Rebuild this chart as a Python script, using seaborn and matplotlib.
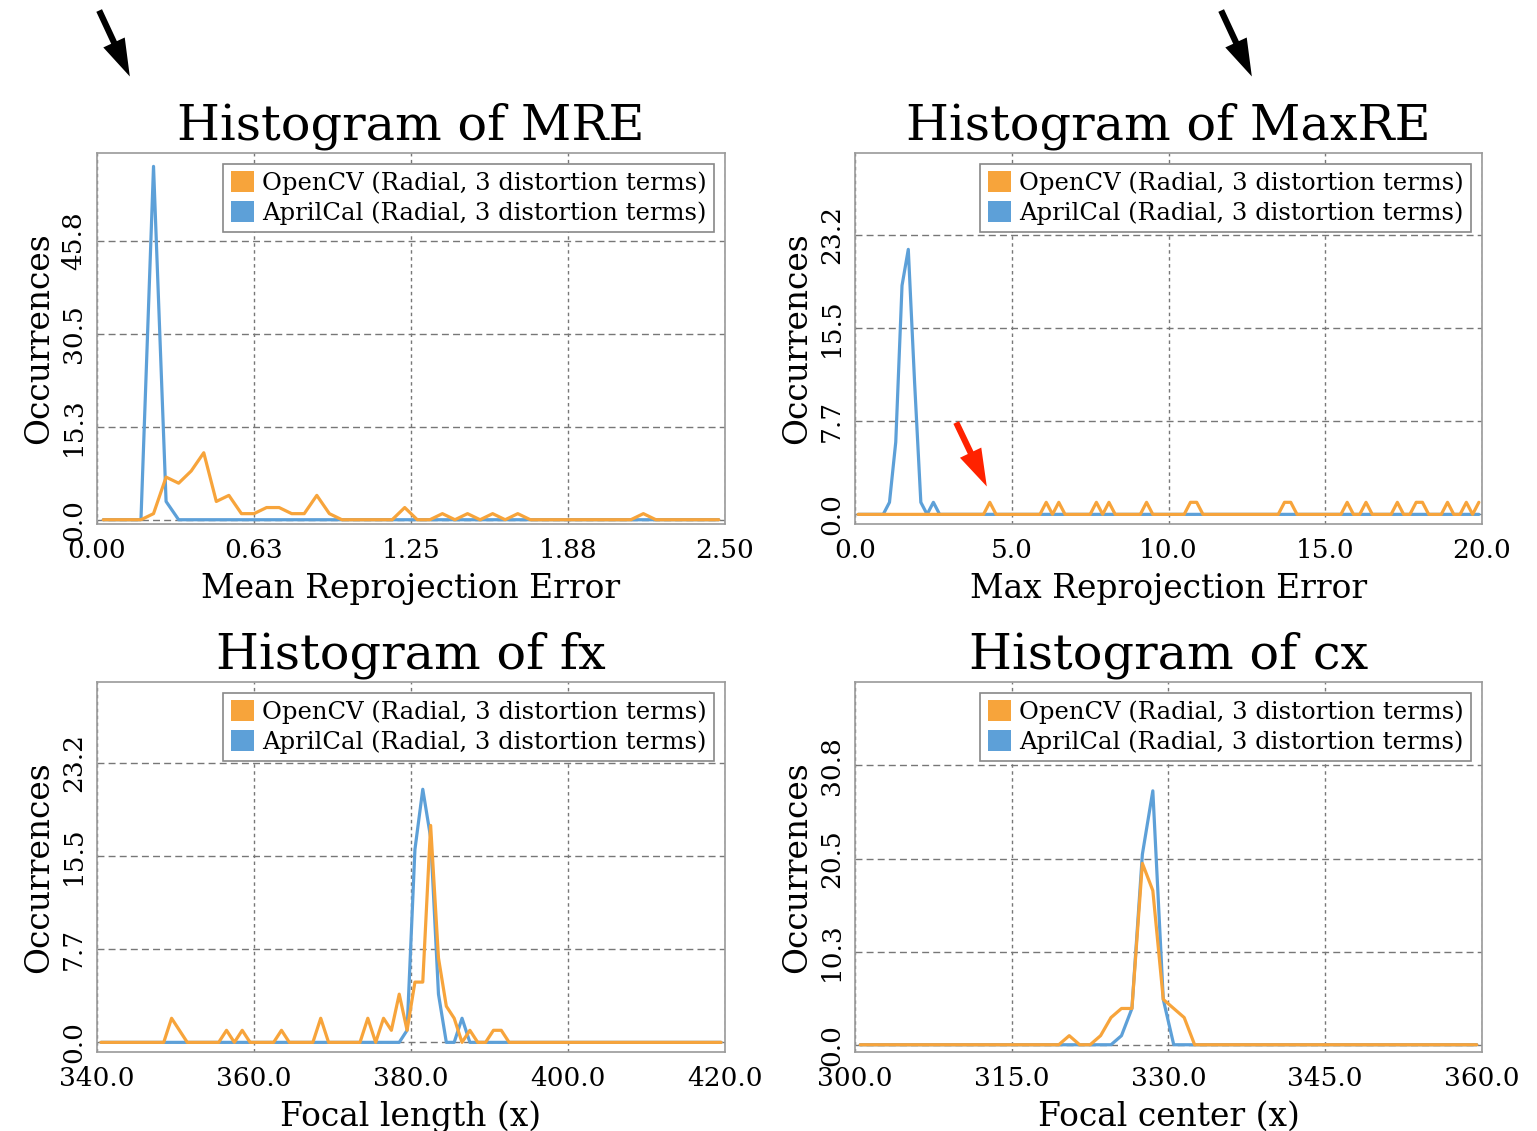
import numpy as np
import pandas as pd
import matplotlib
matplotlib.use("Agg")
import matplotlib.pyplot as plt
import seaborn as sns
from matplotlib.patches import Patch, FancyArrowPatch

methods = ["OpenCV (Radial, 3 distortion terms)", "AprilCal (Radial, 3 distortion terms)"]
colors = ["#F7A43B", "#5DA0D8"]

# Mean reprojection error: 50 bins over [0, 2.5]
mre_range = (0.0, 2.5)
mre_opencv = [0, 0, 0, 0, 1, 7, 6, 8, 11, 3,
              4, 1, 1, 2, 2, 1, 1, 4, 1, 0,
              0, 0, 0, 0, 2, 0, 0, 1, 0, 1,
              0, 1, 0, 1, 0, 0, 0, 0, 0, 0,
              0, 0, 0, 1, 0, 0, 0, 0, 0, 0]
mre_aprilcal = [0, 0, 0, 0, 58, 3, 0, 0, 0, 0] + [0] * 40

# Max reprojection error: 100 bins over [0, 20]
maxre_range = (0.0, 20.0)
maxre_opencv = [0, 0, 0, 0, 0, 0, 0, 0, 0, 0,
                0, 0, 0, 0, 0, 0, 0, 0, 0, 0,
                0, 1, 0, 0, 0, 0, 0, 0, 0, 0,
                1, 0, 1, 0, 0, 0, 0, 0, 1, 0,
                1, 0, 0, 0, 0, 0, 1, 0, 0, 0,
                0, 0, 0, 1, 1, 0, 0, 0, 0, 0,
                0, 0, 0, 0, 0, 0, 0, 0, 1, 1,
                0, 0, 0, 0, 0, 0, 0, 0, 1, 0,
                0, 1, 0, 0, 0, 0, 1, 0, 0, 1,
                1, 0, 0, 0, 1, 0, 0, 1, 0, 1]
maxre_aprilcal = [0, 0, 0, 0, 0, 1, 6, 19, 22, 11,
                  1, 0, 1, 0, 0, 0, 0, 0, 0, 0] + [0] * 80

# Focal length (x): 80 bins over [340, 420]
fx_range = (340.0, 420.0)
fx_opencv = [0, 0, 0, 0, 0, 0, 0, 0, 0, 2,
             1, 0, 0, 0, 0, 0, 1, 0, 1, 0,
             0, 0, 0, 1, 0, 0, 0, 0, 2, 0,
             0, 0, 0, 0, 2, 0, 2, 1, 4, 1,
             5, 5, 18, 7, 3, 2, 0, 1, 0, 0,
             1, 1, 0, 0, 0, 0, 0, 0, 0, 0] + [0] * 20
fx_aprilcal = [0] * 30 + [0, 0, 0, 0, 0, 0, 0, 0, 0, 1,
                          16, 21, 17, 4, 0, 0, 2, 0, 0, 0] + [0] * 30

# Focal center (x): 60 bins over [300, 360]
cx_range = (300.0, 360.0)
cx_opencv = [0] * 20 + [1, 0, 0, 1, 3, 4, 4, 20, 17, 5,
                        4, 3, 0, 0, 0, 0, 0, 0, 0, 0] + [0] * 20
cx_aprilcal = [0] * 20 + [0, 0, 0, 0, 0, 1, 4, 21, 28, 5,
                          0, 0, 0, 0, 0, 0, 0, 0, 0, 0] + [0] * 20

panels = [
    dict(rng=mre_range, opencv=mre_opencv, aprilcal=mre_aprilcal,
         title="Histogram of MRE", xlabel="Mean Reprojection Error",
         xticklabels=["0.00", "0.63", "1.25", "1.88", "2.50"],
         ytop=45.8, yticklabels=["0.0", "15.3", "30.5", "45.8"], ylim=(-0.7, 60.2),
         pos=[97, 153, 725, 524]),
    dict(rng=maxre_range, opencv=maxre_opencv, aprilcal=maxre_aprilcal,
         title="Histogram of MaxRE", xlabel="Max Reprojection Error",
         xticklabels=["0.0", "5.0", "10.0", "15.0", "20.0"],
         ytop=23.2, yticklabels=["0.0", "7.7", "15.5", "23.2"], ylim=(-0.8, 30.0),
         pos=[855, 153, 1482, 524]),
    dict(rng=fx_range, opencv=fx_opencv, aprilcal=fx_aprilcal,
         title="Histogram of fx", xlabel="Focal length (x)",
         xticklabels=["340.0", "360.0", "380.0", "400.0", "420.0"],
         ytop=23.2, yticklabels=["0.0", "7.7", "15.5", "23.2"], ylim=(-0.8, 29.9),
         pos=[97, 682, 725, 1052]),
    dict(rng=cx_range, opencv=cx_opencv, aprilcal=cx_aprilcal,
         title="Histogram of cx", xlabel="Focal center (x)",
         xticklabels=["300.0", "315.0", "330.0", "345.0", "360.0"],
         ytop=30.8, yticklabels=["0.0", "10.3", "20.5", "30.8"], ylim=(-0.8, 40.0),
         pos=[855, 682, 1482, 1052]),
]

sns.set_theme(style="white")
plt.rcParams['font.family'] = ['DejaVu Serif']
plt.rcParams['axes.unicode_minus'] = False
for key in ["text.color", "axes.labelcolor", "xtick.color", "ytick.color"]:
    plt.rcParams[key] = "black"

W, H = 1537, 1131
fig = plt.figure(figsize=(W / 100, H / 100), dpi=100)

for p in panels:
    x0, y0, x1, y1 = p["pos"]
    ax = fig.add_axes([x0 / W, 1 - y1 / H, (x1 - x0) / W, (y1 - y0) / H])
    lo, hi = p["rng"]
    n = len(p["opencv"])
    edges = np.linspace(lo, hi, n + 1)
    centers = (edges[:-1] + edges[1:]) / 2
    df = pd.DataFrame({
        "x": np.concatenate([centers, centers]),
        "count": list(p["aprilcal"]) + list(p["opencv"]),
        "method": [methods[1]] * n + [methods[0]] * n,
    })
    # AprilCal first so OpenCV sits on top, as in the original
    sns.lineplot(data=df, x="x", y="count", hue="method",
                 hue_order=[methods[1], methods[0]],
                 palette=[colors[1], colors[0]],
                 estimator=None, linewidth=2.3, legend=False, ax=ax)

    ax.set_xlim(lo, hi)
    ax.set_ylim(*p["ylim"])
    ax.set_xticks(np.linspace(lo, hi, 5))
    ax.set_xticklabels(p["xticklabels"])
    ax.set_yticks(np.linspace(0, p["ytop"], 4))
    ax.set_yticklabels(p["yticklabels"])
    ax.tick_params(axis="both", length=0, labelsize=19, pad=10)
    ax.tick_params(axis="y", labelrotation=90, pad=8)
    for lab in ax.get_yticklabels():
        lab.set_va("center")

    ax.grid(axis="x", linestyle=(0, (2.5, 2.5)), color="#777777", linewidth=1)
    ax.grid(axis="y", linestyle=(0, (5, 3)), color="#777777", linewidth=1)
    ax.set_axisbelow(True)
    for s in ax.spines.values():
        s.set_color("#9a9a9a")
        s.set_linewidth(1.2)

    ax.set_title(p["title"], fontsize=35.5, pad=10)
    ax.set_xlabel(p["xlabel"], fontsize=23.7, labelpad=7)
    ax.set_ylabel("Occurrences", fontsize=23.7, labelpad=4)

    handles = [Patch(facecolor=colors[0], edgecolor="none", label=methods[0]),
               Patch(facecolor=colors[1], edgecolor="none", label=methods[1])]
    leg = ax.legend(handles=handles, loc="upper right", fontsize=17.5,
                    frameon=True, fancybox=False, framealpha=1,
                    handlelength=0.95, handleheight=0.95, handletextpad=0.35,
                    borderpad=0.3, labelspacing=0.25, borderaxespad=0.45)
    leg.get_frame().set_edgecolor("#888888")
    leg.get_frame().set_linewidth(1.2)


def fig_arrow(start, end, color):
    a = FancyArrowPatch((start[0] / W, 1 - start[1] / H), (end[0] / W, 1 - end[1] / H),
                        transform=fig.transFigure,
                        arrowstyle="simple,head_length=27,head_width=17,tail_width=4.5",
                        mutation_scale=1, color=color, linewidth=0)
    fig.add_artist(a)


fig_arrow((98, 8), (131, 79), "black")
fig_arrow((1220, 8), (1253, 79), "black")
fig_arrow((955, 420), (988, 489), "#FF2200")

fig.savefig("out.png", dpi=100)
